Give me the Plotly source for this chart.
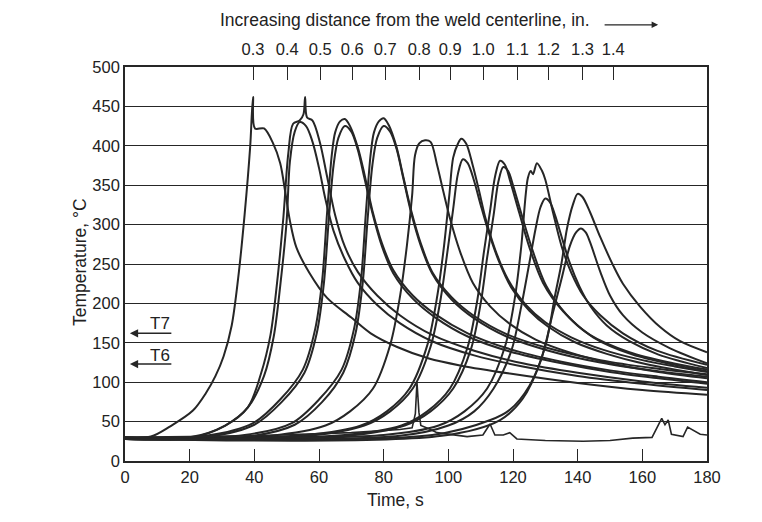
import plotly.graph_objects as go

# ---------------- data ----------------
x_ticks = [0, 20, 40, 60, 80, 100, 120, 140, 160, 180]
y_ticks = [0, 50, 100, 150, 200, 250, 300, 350, 400, 450, 500]
top_labels = ["0.3", "0.4", "0.5", "0.6", "0.7", "0.8", "0.9", "1.0", "1.1", "1.2", "1.3", "1.4"]
top_tick_times = [39.6, 50.2, 60.4, 70.3, 80.5, 91.0, 100.6, 110.8, 121.4, 131.0, 141.5, 151.0]

t1 = [0, 8, 14, 21, 25, 28, 30.5, 33, 35, 37, 38.7, 39.6, 40.2, 43, 45.8, 48, 49.5, 51, 53, 57, 62.5, 70, 76, 84, 94, 104, 119, 140, 160, 180]
T1 = [30, 31, 44, 64, 86, 108, 133, 172, 232, 313, 398, 462, 422, 422, 403, 378, 343, 305, 271, 239, 207, 182, 162, 145, 130, 121, 111, 99, 90, 84]

t2 = [0, 20, 31, 38, 42, 45, 47, 49, 50.5, 52, 54, 55.2, 55.7, 56.3, 58, 60.3, 62.5, 65, 68, 72, 78, 85, 95, 108, 123, 140, 160, 180]
T2 = [29, 30, 45, 68, 110, 160, 225, 310, 390, 428, 432, 440, 462, 436, 432, 404, 361, 312, 272, 240, 210, 185, 160, 140, 124, 112, 101, 93]

t3 = [0, 20, 31, 38, 43, 46, 48, 50, 51, 52.5, 54, 56, 58, 60, 62, 64.5, 68, 72, 78, 85, 95, 108, 123, 140, 160, 180]
T3 = [28, 29, 45, 68, 108, 158, 222, 305, 380, 418, 430, 425, 405, 372, 332, 292, 256, 226, 198, 175, 152, 134, 120, 108, 98, 90]

t4 = [0, 25, 39.6, 48, 55, 58.8, 61, 62.5, 64, 65, 66.5, 68, 69.6, 72, 74, 76.5, 79.5, 83, 89, 96, 106, 119, 135, 150, 165, 180]
T4 = [30, 32, 48, 78, 116, 167, 230, 315, 390, 417, 431, 434, 425, 398, 365, 318, 276, 242, 210, 186, 162, 142, 126, 115, 107, 100]

t5 = [0, 26, 40, 48.5, 55.5, 59.3, 61.5, 63, 64.5, 66, 68, 70, 72, 74, 76.5, 79.5, 83, 89, 96, 106, 119, 135, 150, 165, 180]
T5 = [28, 31, 46, 75, 112, 162, 225, 305, 375, 410, 425, 418, 395, 360, 315, 272, 238, 206, 182, 158, 139, 124, 113, 105, 98]

t6 = [0, 37, 51.6, 60, 67, 70.8, 73, 74.5, 76, 77, 78.5, 80, 81.6, 84, 86, 88.5, 91.5, 95, 101, 108, 118, 131, 147, 163, 180]
T6 = [30, 33, 48, 78, 116, 167, 230, 315, 390, 417, 431, 435, 426, 398, 362, 318, 276, 240, 208, 184, 161, 143, 128, 118, 110]

t7 = [0, 38, 52.5, 61, 67.5, 71.3, 73.5, 75, 76.5, 78, 80, 82, 84, 86, 88.5, 91.5, 95, 101, 108, 118, 131, 147, 163, 180]
T7 = [28, 31, 46, 75, 112, 162, 225, 305, 375, 410, 425, 418, 396, 360, 315, 273, 238, 205, 181, 158, 140, 125, 115, 107]

t8 = [0, 45, 62, 69.6, 76.7, 82, 85.1, 87.2, 88.8, 89.7, 91, 92.8, 94.5, 96.5, 98.4, 100.5, 103.6, 107.6, 113, 119, 127, 138, 150, 165, 180]
T8 = [28, 32, 45, 63, 92, 147, 210, 274, 337, 388, 403, 407, 405, 376, 343, 308, 266, 226, 196, 174, 154, 137, 124, 113, 105]

t9 = [0, 56, 73, 81, 88, 93.5, 96.6, 98.7, 100.3, 101.5, 103, 104, 105.5, 107.5, 109.5, 111.5, 114.5, 118.5, 124, 130, 138, 148, 160, 170, 180]
T9 = [29, 33, 45, 63, 92, 147, 210, 274, 337, 385, 403, 409, 403, 376, 343, 308, 268, 230, 198, 176, 157, 141, 128, 120, 113]

t10 = [0, 57, 74, 82, 89, 94.5, 97.6, 99.7, 101.5, 103, 104.5, 106, 108, 110, 112.5, 115.5, 119.5, 125, 131, 139, 149, 161, 180]
T10 = [28, 32, 45, 63, 92, 145, 205, 265, 320, 365, 383, 378, 355, 325, 290, 255, 220, 191, 170, 151, 136, 123, 109]

t11 = [0, 68, 85.5, 93.5, 100.5, 106, 109, 111, 113, 114.5, 116, 117.5, 119, 122, 125, 129.3, 135.5, 143.8, 156, 169.5, 180]
T11 = [29, 33, 45, 63, 92, 145, 205, 265, 320, 362, 381, 376, 357, 314, 272, 226, 190, 160, 138, 124, 116]

t12 = [0, 69, 86.5, 94.5, 101.5, 107, 110, 112, 114, 115.5, 117, 118.5, 120, 123, 126, 130.3, 136.5, 144.8, 157, 170, 180]
T12 = [28, 32, 45, 63, 92, 142, 200, 258, 312, 355, 373, 368, 350, 308, 268, 222, 186, 157, 135, 122, 114]

t13 = [0, 80, 97, 105, 112, 117.5, 120.5, 122.5, 124.6, 125.5, 126.2, 127.4, 129, 130, 132.4, 135, 138, 141.7, 147, 154, 164.5, 180]
T13 = [29, 33, 45, 63, 92, 145, 205, 270, 359, 368, 364, 378, 368, 357, 315, 273, 239, 210, 185, 162, 140, 122]

t14 = [0, 85, 100, 108, 114, 119.5, 122.5, 125, 127, 128.5, 130, 131.5, 133, 135, 137.5, 140.5, 144, 149, 156, 165, 180]
T14 = [28, 32, 45, 63, 92, 140, 195, 250, 295, 322, 333, 328, 312, 285, 252, 222, 196, 172, 152, 135, 118]

t15 = [0, 95, 113, 119, 125, 130, 133, 135, 136.7, 138.5, 140, 141.5, 143.8, 147, 151, 154, 159.3, 165.5, 171.7, 180]
T15 = [29, 33, 52, 65, 95, 146, 210, 251, 295, 325, 339, 335, 316, 284, 248, 225, 196, 170, 152, 138]

t16 = [0, 98, 116, 123, 128.4, 132.4, 135, 137.6, 139.5, 141, 142.5, 143.8, 147, 150, 154, 160, 168.6, 180]
T16 = [28, 32, 52, 79, 125, 189, 231, 273, 290, 295, 290, 278, 240, 210, 185, 163, 143, 124]

t17 = [0, 40, 70, 85, 88.8, 89.8, 90.3, 90.9, 91.5, 93.4, 96.5, 105.8, 110.7, 112.9, 114.4, 117, 119, 121.2, 130, 141.7, 150, 157, 163, 166, 167, 168, 169, 172.6, 174, 177.9, 180]
T17 = [30, 32, 36, 40, 42, 60, 100, 62, 45, 42, 36, 31, 33, 47, 33, 33, 36, 28, 26, 25, 26, 29, 30, 54, 46, 52, 34, 31, 43, 34, 33]

curves = [("TC1", t1, T1), ("TC2", t2, T2), ("TC3", t3, T3), ("TC4", t4, T4),
          ("TC5", t5, T5), ("TC6", t6, T6), ("TC7", t7, T7), ("TC8", t8, T8),
          ("TC9", t9, T9), ("TC10", t10, T10), ("TC11", t11, T11), ("TC12", t12, T12),
          ("TC13", t13, T13), ("TC14", t14, T14), ("TC15", t15, T15), ("TC16", t16, T16)]
baseline_trace = ("TC17", t17, T17)

# ---------------- figure ----------------
INK = "#262626"
FONT = "Liberation Sans, Arial, Helvetica, sans-serif"

fig = go.Figure()
for name, t, T in curves:
    fig.add_trace(go.Scatter(x=t, y=T, mode="lines", name=name, showlegend=False,
                             line=dict(color=INK, width=2, shape="spline", smoothing=0.9)))
fig.add_trace(go.Scatter(x=baseline_trace[1], y=baseline_trace[2], mode="lines",
                         name=baseline_trace[0], showlegend=False,
                         line=dict(color=INK, width=1.6)))
# invisible trace to carry the top (distance) axis
fig.add_trace(go.Scatter(x=[0, 180], y=[0, 0], xaxis="x2", mode="lines",
                         line=dict(width=0), showlegend=False, hoverinfo="skip"))

fig.update_layout(
    width=762, height=522,
    margin=dict(l=125, r=55, t=67, b=61),
    paper_bgcolor="white", plot_bgcolor="white",
    font=dict(family=FONT, size=16.5, color="#222"),
    showlegend=False,
    xaxis=dict(range=[0, 180], tickvals=x_ticks, ticks="inside", ticklen=12,
               tickwidth=1.3, tickcolor=INK, showline=True, linecolor=INK,
               linewidth=1.6, showgrid=False, zeroline=False),
    xaxis2=dict(overlaying="x", side="top", range=[0, 180], tickmode="array",
                tickvals=top_tick_times, ticktext=top_labels, ticks="inside",
                ticklen=13, tickwidth=1.3, tickcolor=INK, showline=True,
                linecolor=INK, linewidth=1.6, showgrid=False, zeroline=False,
                ticklabelstandoff=4),
    yaxis=dict(range=[0, 500], tickvals=y_ticks, ticks="", showgrid=True,
               gridcolor=INK, gridwidth=1.3, showline=True, mirror=True,
               linecolor=INK, linewidth=1.6, zeroline=False),
)

ann = [
    dict(text="Increasing distance from the weld centerline, in.", x=0.481, y=1.119,
         xref="paper", yref="paper", xanchor="center", yanchor="middle",
         showarrow=False, font=dict(size=17.5)),
    dict(text="", x=0.916, y=1.107, xref="paper", yref="paper", showarrow=True,
         ax=-55, ay=0, arrowhead=2, arrowsize=1, arrowwidth=1.3, arrowcolor=INK),
    dict(text="Time, s", x=0.464, y=-0.099, xref="paper", yref="paper",
         xanchor="center", yanchor="middle", showarrow=False, font=dict(size=17.5)),
    dict(text="Temperature, °C", x=-0.0773, y=0.505, xref="paper", yref="paper",
         xanchor="center", yanchor="middle", showarrow=False, textangle=-90,
         font=dict(size=17.5)),
    dict(text="T7", x=10.8, y=175, xref="x", yref="y", xanchor="center",
         yanchor="middle", showarrow=False, font=dict(size=17)),
    dict(text="", x=1.5, y=162, xref="x", yref="y", showarrow=True, ax=43, ay=0,
         arrowhead=2, arrowsize=1.1, arrowwidth=1.5, arrowcolor=INK),
    dict(text="T6", x=10.8, y=134.5, xref="x", yref="y", xanchor="center",
         yanchor="middle", showarrow=False, font=dict(size=17)),
    dict(text="", x=1.5, y=123, xref="x", yref="y", showarrow=True, ax=43, ay=0,
         arrowhead=2, arrowsize=1.1, arrowwidth=1.5, arrowcolor=INK),
]
fig.update_layout(annotations=ann)

fig.write_html("out.html")
